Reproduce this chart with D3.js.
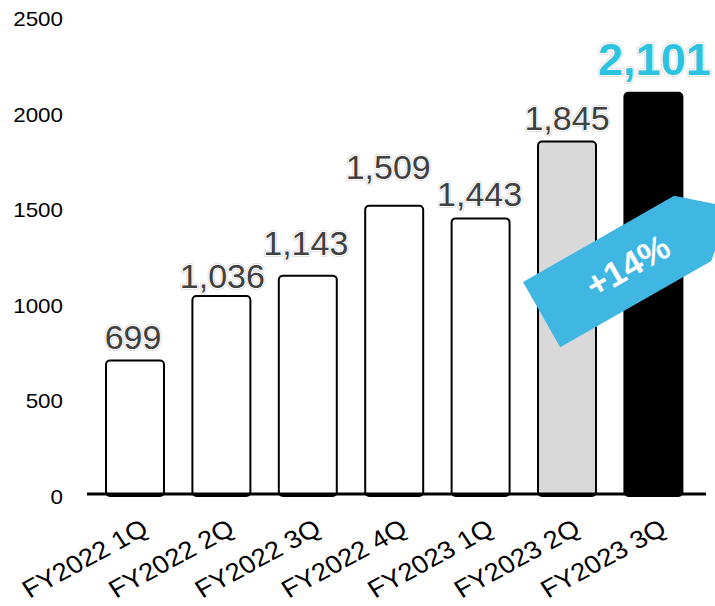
<!DOCTYPE html>
<html>
<head>
<meta charset="utf-8">
<script src="https://cdn.jsdelivr.net/npm/d3@7"></script>
<style>
  html, body { margin: 0; padding: 0; background: #fff; }
  svg { display: block; font-family: "Liberation Sans", Arial, sans-serif; }
</style>
</head>
<body>
<svg id="chart" width="715" height="606"></svg>
<script>
// Quarterly values
const quarters = ["FY2022 1Q", "FY2022 2Q", "FY2022 3Q", "FY2022 4Q", "FY2023 1Q", "FY2023 2Q", "FY2023 3Q"];
const values = [699, 1036, 1143, 1509, 1443, 1845, 2101];
const yTicks = [0, 500, 1000, 1500, 2000, 2500];
const growthLabel = "+14%";

// Per-bar styling and label lift above the bar top
const barFills = ["#fff", "#fff", "#fff", "#fff", "#fff", "#d9d9d9", "#000"];
const labelLift = [11, 8, 21, 27, 12, 12, 18];
const labelShift = [-2, 1, -2, -6, -1, 0, 1];

const svg = d3.select("#chart");

const x = d3.scaleBand()
  .domain(quarters)
  .range([87, 701.4])
  .paddingInner(0.329)
  .paddingOuter(0.22);

const y = d3.scaleLinear()
  .domain([0, 2500])
  .range([494, 16.5]);

// Y axis labels only (no axis line, no ticks)
const yAxis = d3.axisLeft(y).tickValues(yTicks).tickSize(0).tickPadding(0).tickFormat(d3.format("d"));
const yg = svg.append("g").attr("transform", "translate(63,3)").call(yAxis);
yg.select(".domain").remove();
yg.selectAll("text")
  .attr("x", 0)
  .attr("font-size", 20)
  .attr("font-family", "Liberation Sans, Arial, sans-serif")
  .attr("fill", "#000")
  .attr("transform", "scale(1.12,1)");

// Bars
svg.append("g").selectAll("rect")
  .data(values)
  .join("rect")
  .attr("x", (d, i) => x(quarters[i]))
  .attr("y", d => y(d))
  .attr("width", x.bandwidth())
  .attr("height", d => y(0) - y(d) + 2)
  .attr("rx", 4)
  .attr("fill", (d, i) => barFills[i])
  .attr("stroke", "#000")
  .attr("stroke-width", 2);

// Baseline
svg.append("line")
  .attr("x1", 87).attr("x2", 706)
  .attr("y1", y(0)).attr("y2", y(0))
  .attr("stroke", "#000")
  .attr("stroke-width", 3);

// Category labels, rotated
const xAxis = d3.axisBottom(x).tickSize(0).tickPadding(0);
const xg = svg.append("g").call(xAxis);
xg.select(".domain").remove();
xg.selectAll(".tick").attr("transform", d => `translate(${x(d) + x.bandwidth() / 2 + 15},533)`);
xg.selectAll("text")
  .attr("font-size", 25)
  .attr("font-family", "Liberation Sans, Arial, sans-serif")
  .attr("fill", "#000")
  .attr("text-anchor", "end")
  .attr("dy", 0)
  .attr("y", 0)
  .attr("transform", "scale(1.1,1) rotate(-31)");

// Value labels
const fmt = d3.format(",");
const last = values.length - 1;
const labels = svg.append("g");
values.forEach((v, i) => {
  const cx = x(quarters[i]) + x.bandwidth() / 2 + labelShift[i];
  const cy = y(v) - labelLift[i];
  const isLast = i === last;
  const size = isLast ? 45 : 34;
  const weight = isLast ? "bold" : "normal";
  // faint outer edge
  labels.append("text")
    .attr("x", cx).attr("y", cy)
    .attr("text-anchor", "middle")
    .attr("font-size", size)
    .attr("font-weight", weight)
    .attr("fill", "none")
    .attr("stroke", "#e2e2e2")
    .attr("stroke-width", 4)
    .attr("stroke-linejoin", "round")
    .text(fmt(v));
  // white halo and fill
  labels.append("text")
    .attr("x", cx).attr("y", cy)
    .attr("text-anchor", "middle")
    .attr("font-size", size)
    .attr("font-weight", weight)
    .attr("fill", isLast ? "#2bc3e0" : "#404040")
    .attr("stroke", "#fff")
    .attr("stroke-width", 2)
    .attr("stroke-linejoin", "round")
    .attr("paint-order", "stroke")
    .text(fmt(v));
});

// Growth tag pointing to the latest quarter
const angle = -29.7;
const tag = svg.append("g")
  .attr("transform", `translate(${x(quarters[5]) - 15},${y(1110)}) rotate(${angle})`);
tag.append("polygon")
  .attr("points", [[0, 0], [174, 0], [217, 37.5], [174, 75], [0, 75]].map(p => p.join(",")).join(" "))
  .attr("fill", "#40b6e3");
tag.append("text")
  .attr("x", 99).attr("y", 37.5)
  .attr("dy", "0.36em")
  .attr("text-anchor", "middle")
  .attr("font-size", 35)
  .attr("font-weight", "bold")
  .attr("fill", "#fff")
  .text(growthLabel);
</script>
</body>
</html>
